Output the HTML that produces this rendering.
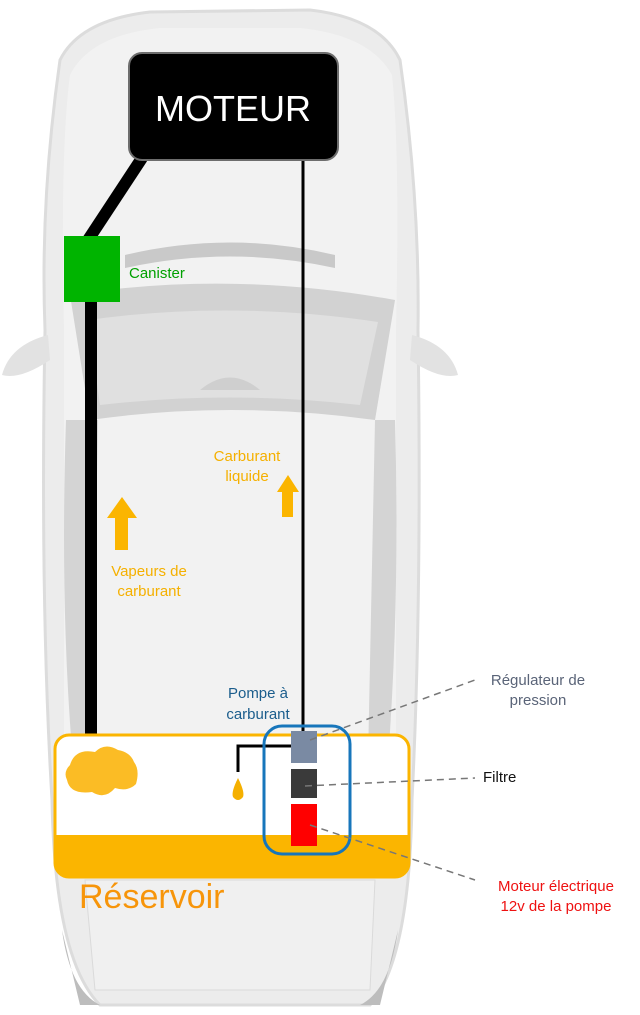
<!DOCTYPE html>
<html><head><meta charset="utf-8"><style>
html,body{margin:0;padding:0;background:#fff;}
svg{display:block;font-family:"Liberation Sans",sans-serif;}
</style></head><body>
<svg width="640" height="1015" viewBox="0 0 640 1015" xmlns="http://www.w3.org/2000/svg">
<!-- car body -->
<path d="M60,60 Q80,20 150,12 L310,10 Q380,18 400,60 Q420,200 418,330 Q422,600 412,800 Q410,960 370,1005 L100,1005 Q55,960 52,800 Q40,600 45,330 Q40,200 60,60 Z" fill="#ececec" stroke="#dcdcdc" stroke-width="3"/>
<path d="M70,75 Q90,35 160,28 L300,28 Q370,35 392,75 Q400,150 396,330 L396,760 L64,760 L64,330 Q60,150 70,75 Z" fill="#f2f2f2"/>
<!-- mirrors -->
<path d="M48,335 Q10,345 2,375 Q20,380 50,360 Z" fill="#e2e2e2"/>
<path d="M412,335 Q450,345 458,375 Q440,380 410,360 Z" fill="#e2e2e2"/>
<!-- windshield -->
<path d="M70,295 Q230,270 395,300 L375,420 Q230,400 90,420 Z" fill="#d2d2d2"/>
<path d="M88,320 Q230,300 378,322 L360,405 Q230,390 100,405 Z" fill="#e0e0e0"/>
<path d="M125,255 Q230,230 335,255 L335,268 Q230,245 125,268 Z" fill="#c9c9c9"/>
<path d="M200,390 Q230,365 260,390 Z" fill="#cfcfcf"/>
<!-- side windows -->
<path d="M66,420 Q60,600 72,750 L92,750 L98,420 Z" fill="#d4d4d4"/>
<path d="M395,420 Q400,600 388,760 L368,760 L375,420 Z" fill="#d4d4d4"/>
<!-- rear -->
<path d="M85,880 L375,880 L370,990 L95,990 Z" fill="#f0f0f0" stroke="#dadada"/>
<path d="M62,930 Q70,990 100,1005 L80,1005 Z" fill="#bdbdbd"/>
<path d="M398,930 Q390,990 360,1005 L380,1005 Z" fill="#bdbdbd"/>

<!-- lines -->
<line x1="142" y1="158" x2="88" y2="240" stroke="#000" stroke-width="12"/>
<rect x="85" y="300" width="12" height="436" fill="#000"/>
<rect x="301.5" y="158" width="3" height="712" fill="#000"/>

<!-- motor box -->
<rect x="129" y="53" width="209" height="107" rx="13" fill="#000" stroke="#6d6d6d" stroke-width="2"/>
<text x="233" y="121" font-size="36" fill="#fff" text-anchor="middle">MOTEUR</text>

<!-- canister -->
<rect x="64" y="236" width="56" height="66" fill="#00b400"/>
<text x="129" y="278" font-size="15" fill="#00a000">Canister</text>

<!-- arrows -->
<polygon points="122,497 137,518 128,518 128,550 115,550 115,518 107,518" fill="#fbb500"/>
<polygon points="288,475 299,492 293,492 293,517 282,517 282,492 277,492" fill="#fbb500"/>
<text font-size="15" fill="#f5b000" text-anchor="middle"><tspan x="247" y="461">Carburant</tspan><tspan x="247" y="481">liquide</tspan></text>
<text font-size="15" fill="#f5b000" text-anchor="middle"><tspan x="149" y="576">Vapeurs de</tspan><tspan x="149" y="596">carburant</tspan></text>

<!-- tank -->
<rect x="55" y="735" width="354" height="142" rx="14" fill="#fff" stroke="#fbb500" stroke-width="3"/>
<path d="M55,835 L409,835 L409,863 Q409,877 395,877 L69,877 Q55,877 55,863 Z" fill="#fbb500"/>
<path d="M70,765 Q75,748 95,752 Q105,742 118,750 Q130,752 134,762 Q140,770 136,784 Q128,792 115,788 Q105,800 92,792 Q70,795 67,780 Q63,772 70,765 Z" fill="#fbbc25"/>
<path d="M238,778 Q231,792 233,797 Q238,803 243,797 Q245,792 238,778 Z" fill="#f5b000"/>
<polyline points="238,772 238,746 292,746" fill="none" stroke="#000" stroke-width="3"/>
<text x="79" y="908" font-size="34" fill="#f7950a">Réservoir</text>

<!-- pump -->
<rect x="264" y="726" width="86" height="128" rx="18" fill="none" stroke="#1776bb" stroke-width="3"/>
<rect x="291" y="731" width="26" height="32" fill="#7a8aa3"/>
<rect x="291" y="769" width="26" height="29" fill="#3a3a3a"/>
<rect x="291" y="804" width="26" height="42" fill="#ff0000"/>
<text font-size="15" fill="#1b5d8c" text-anchor="middle"><tspan x="258" y="698">Pompe à</tspan><tspan x="258" y="719">carburant</tspan></text>

<!-- callouts -->
<g stroke="#777" stroke-width="1.5" stroke-dasharray="7,5" fill="none">
<line x1="310" y1="740" x2="475" y2="680"/>
<line x1="305" y1="786" x2="475" y2="778"/>
<line x1="310" y1="825" x2="475" y2="880"/>
</g>
<text font-size="15" fill="#5a6478" text-anchor="middle"><tspan x="538" y="685">Régulateur de</tspan><tspan x="538" y="705">pression</tspan></text>
<text x="483" y="782" font-size="15" fill="#111">Filtre</text>
<text font-size="15" fill="#ee1111" text-anchor="middle"><tspan x="556" y="891">Moteur électrique</tspan><tspan x="556" y="911">12v de la pompe</tspan></text>
</svg>
</body></html>
